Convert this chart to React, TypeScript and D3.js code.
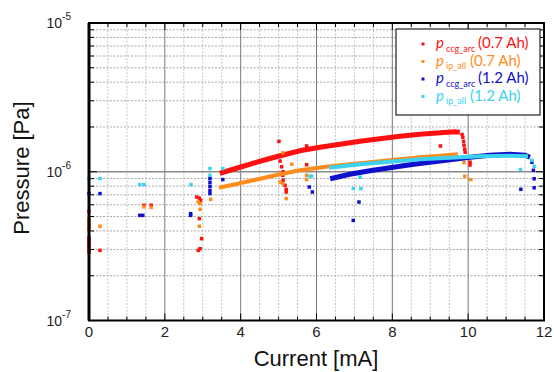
import React from 'react';
import * as d3 from 'd3';

const W = 554;
const H = 372;
const margin = { top: 23, right: 10, bottom: 51.5, left: 89 };

// [current mA, pressure Pa]
const ccgArc07Curve: [number, number][] = [
  [3.45, 9.77e-7], [3.98, 1.072e-6], [4.51, 1.177e-6], [5.04, 1.281e-6], [5.56, 1.385e-6],
  [6.09, 1.462e-6], [6.62, 1.532e-6], [7.15, 1.605e-6], [7.67, 1.668e-6], [8.2, 1.734e-6],
  [8.73, 1.789e-6], [9.26, 1.83e-6], [9.65, 1.86e-6], [9.78, 1.845e-6],
];
const ccgArc07Points: [number, number][] = [
  [0, 5.42e-7], [0, 4.1e-7], [0, 3.62e-7], [0, 3.46e-7], [0, 3.3e-7], [0, 3.15e-7], [0, 3.0e-7], [0, 2.87e-7],
  [0.29, 2.96e-7], [1.45, 5.95e-7], [1.64, 5.95e-7],
  [2.84, 6.76e-7], [2.91, 6.65e-7], [2.94, 6.43e-7], [2.91, 4.84e-7], [2.97, 3.55e-7], [2.93, 3.04e-7], [2.88, 2.96e-7],
  [5.01, 1.6e-6], [5.04, 1.18e-6], [5.08, 1.08e-6], [5.12, 1.0e-6], [5.11, 9.47e-7], [5.12, 8.77e-7],
  [5.17, 8.11e-7], [5.2, 7.62e-7], [5.2, 7.31e-7], [5.74, 1.49e-6], [5.74, 1.115e-6], [9.27, 1.49e-6],
  [9.84, 1.78e-6], [9.86, 1.707e-6], [9.88, 1.6e-6], [9.89, 1.508e-6], [9.91, 1.42e-6], [9.92, 1.353e-6],
  [9.97, 1.252e-6], [10.05, 1.16e-6], [10.05, 1.11e-6],
];

const ipAll07Curve: [number, number][] = [
  [3.43, 7.8e-7], [3.98, 8.37e-7], [4.51, 8.97e-7], [5.04, 9.62e-7], [5.56, 1.023e-6],
  [6.36, 1.089e-6], [7.15, 1.141e-6], [7.94, 1.195e-6], [8.73, 1.252e-6], [9.26, 1.281e-6], [9.73, 1.312e-6],
];
const ipAll07Points: [number, number][] = [
  [0, 4.84e-7], [0, 4.71e-7], [0, 4.57e-7], [0, 4.43e-7], [0, 4.3e-7], [0, 4.16e-7], [0.29, 4.3e-7],
  [1.45, 5.81e-7], [1.64, 5.76e-7],
  [2.88, 6.26e-7], [2.93, 6.11e-7], [2.93, 5.59e-7], [2.91, 4.3e-7], [3.21, 6.53e-7],
  [5.11, 1.338e-6], [5.35, 1.123e-6], [5.04, 8.53e-7], [5.11, 8.33e-7], [5.2, 6.6e-7],
  [5.74, 9.47e-7], [5.74, 8.86e-7],
  [9.89, 1.153e-6], [9.91, 9.33e-7], [10.07, 8.86e-7],
];

const ccgArc12Curve: [number, number][] = [
  [6.36, 8.97e-7], [6.88, 9.62e-7], [7.41, 1.016e-6], [7.94, 1.064e-6], [8.47, 1.114e-6],
  [8.99, 1.159e-6], [9.52, 1.205e-6], [10.05, 1.252e-6], [10.57, 1.291e-6], [11.1, 1.312e-6],
  [11.5, 1.291e-6], [11.63, 1.252e-6],
];
const ccgArc12Points: [number, number][] = [
  [0, 7.13e-7], [0.29, 7.13e-7], [1.34, 5.09e-7], [1.42, 5.09e-7], [2.68, 5.23e-7], [2.68, 5.09e-7],
  [3.19, 9.03e-7], [3.19, 8.49e-7], [3.19, 7.99e-7], [3.19, 7.5e-7], [3.19, 7.13e-7], [3.53, 8.86e-7],
  [5.81, 7.9e-7], [5.89, 7.31e-7], [7.12, 6.26e-7], [6.97, 4.71e-7],
  [11.68, 1.159e-6], [11.72, 1.023e-6], [11.74, 8.97e-7], [11.74, 7.8e-7], [11.39, 7.62e-7],
];

const ipAll12Curve: [number, number][] = [
  [6.33, 1.064e-6], [7.15, 1.123e-6], [7.94, 1.168e-6], [8.73, 1.214e-6], [9.52, 1.243e-6],
  [10.31, 1.272e-6], [11.1, 1.281e-6], [11.58, 1.272e-6],
];
const ipAll12Points: [number, number][] = [
  [0, 9.0e-7], [0.29, 9.0e-7], [1.34, 8.2e-7], [1.45, 8.2e-7], [2.69, 8.2e-7],
  [3.19, 1.051e-6], [3.19, 9.47e-7], [3.53, 1.051e-6], [5.83, 9.33e-7], [5.87, 9.33e-7],
  [6.97, 7.71e-7], [7.17, 7.71e-7], [7.15, 9.2e-7], [11.38, 1.035e-6],
  [11.68, 1.195e-6], [11.74, 1.089e-6],
];

const xTicks = [0, 2, 4, 6, 8, 10, 12];
const yExponents = [-7, -6, -5];

const series = [
  { name: 'ccg_arc', ah: '(0.7 Ah)', color: '#ff1010', width: 5, curve: ccgArc07Curve, points: ccgArc07Points },
  { name: 'ip_all', ah: '(0.7 Ah)', color: '#ff8c1a', width: 4, curve: ipAll07Curve, points: ipAll07Points },
  { name: 'ccg_arc', ah: '(1.2 Ah)', color: '#1010cc', width: 5, curve: ccgArc12Curve, points: ccgArc12Points },
  { name: 'ip_all', ah: '(1.2 Ah)', color: '#3cd2f0', width: 4, curve: ipAll12Curve, points: ipAll12Points },
];

export default function App() {
  const x = d3.scaleLinear().domain([0, 12]).range([margin.left, W - margin.right]);
  const y = d3.scaleLog().domain([1e-7, 1e-5]).range([H - margin.bottom, margin.top]);
  const line = d3.line<[number, number]>().x((d) => x(d[0])).y((d) => y(d[1]));

  const x0 = x(0), x1 = x(12), y0 = y(1e-7), y1 = y(1e-5);
  const minorX = d3.range(0.5, 12, 0.5).filter((v) => v % 2 !== 0);
  const majorX = [2, 4, 6, 8, 10];
  const minorY: number[] = [];
  [-7, -6].forEach((e) => d3.range(2, 10).forEach((m) => minorY.push(m * Math.pow(10, e))));
  const font = 'Liberation Sans, Arial, sans-serif';
  const legendFont = "Lato, 'Open Sans', sans-serif";

  return (
    <svg width={W} height={H} style={{ position: 'absolute', left: 0, top: 0, background: '#fff' }}>
      <rect width={W} height={H} fill="#fff" />
      {/* grid */}
      {minorX.map((v) => (
        <line key={'gx' + v} x1={x(v)} x2={x(v)} y1={y1} y2={y0} stroke="#c4c4c4" strokeDasharray="2,1.5" />
      ))}
      {minorY.map((v) => (
        <line key={'gy' + v} x1={x0} x2={x1} y1={y(v)} y2={y(v)} stroke="#a8a8a8" strokeDasharray="2,1.5" />
      ))}
      {majorX.map((v) => (
        <line key={'Gx' + v} x1={x(v)} x2={x(v)} y1={y1} y2={y0} stroke="#7a7a7a" />
      ))}
      <line x1={x0} x2={x1} y1={y(1e-6)} y2={y(1e-6)} stroke="#8a8a8a" strokeWidth={1.5} />

      {/* ticks */}
      {d3.range(0.5, 12, 0.5).map((v) => {
        const len = v % 2 === 0 ? 7 : 4;
        return (
          <g key={'t' + v} stroke="#000">
            <line x1={x(v)} x2={x(v)} y1={y0} y2={y0 - len} />
            <line x1={x(v)} x2={x(v)} y1={y1} y2={y1 + len} />
          </g>
        );
      })}
      {minorY.concat([1e-6]).map((v) => {
        const len = v === 1e-6 ? 8 : 5;
        return (
          <g key={'ty' + v} stroke="#000">
            <line x1={x0} x2={x0 + len} y1={y(v)} y2={y(v)} />
            <line x1={x1} x2={x1 - len} y1={y(v)} y2={y(v)} />
          </g>
        );
      })}

      {/* data */}
      {series.map((s, i) => (
        <g key={'s' + i}>
          <path d={line(s.curve) || ''} fill="none" stroke={s.color} strokeWidth={s.width} />
          {s.points.map((d, j) => (
            <rect key={j} x={x(d[0]) - 1.75} y={y(d[1]) - 1.75} width={3.5} height={3.5} fill={s.color} />
          ))}
        </g>
      ))}

      {/* frame */}
      <rect x={x0} y={y1} width={x1 - x0} height={y0 - y1} fill="none" stroke="#000" strokeWidth={2} />
      <line x1={x0} x2={x0} y1={y1} y2={y0} stroke="#000" strokeWidth={3} />

      {/* legend */}
      <rect x={396} y={29} width={144} height={86} fill="#fff" stroke="#222" strokeWidth={1.2} />
      {series.map((s, i) => {
        const by = 48 + i * 17.5;
        const ahX = s.name === 'ccg_arc' ? 478 : 470;
        return (
          <g key={'l' + i} fill={s.color} fontFamily={legendFont}>
            <rect x={421.5} y={by - 5.5} width={3} height={3} />
            <text x={436} y={by} fontStyle="italic" fontSize={15}>p</text>
            <text x={446} y={by + 3.5} fontSize={9}>{s.name}</text>
            <text x={ahX} y={by} fontSize={15}>{s.ah}</text>
          </g>
        );
      })}

      {/* axis labels */}
      {xTicks.map((v) => (
        <text key={'xl' + v} x={x(v)} y={337} textAnchor="middle" fontFamily={font} fontSize={15} fill="#222">
          {v}
        </text>
      ))}
      {yExponents.map((e) => (
        <text key={'yl' + e} x={71} y={y(Math.pow(10, e)) + 5} textAnchor="end" fontFamily={font} fontSize={14} fill="#222">
          10<tspan fontSize={10} dy={-8}>{e}</tspan>
        </text>
      ))}
      <text x={316} y={366} textAnchor="middle" fontFamily={font} fontSize={22} fill="#111">
        Current [mA]
      </text>
      <text
        transform={`translate(29,168) rotate(-90)`}
        textAnchor="middle"
        fontFamily={font}
        fontSize={22}
        fill="#111"
      >
        Pressure [Pa]
      </text>
    </svg>
  );
}
